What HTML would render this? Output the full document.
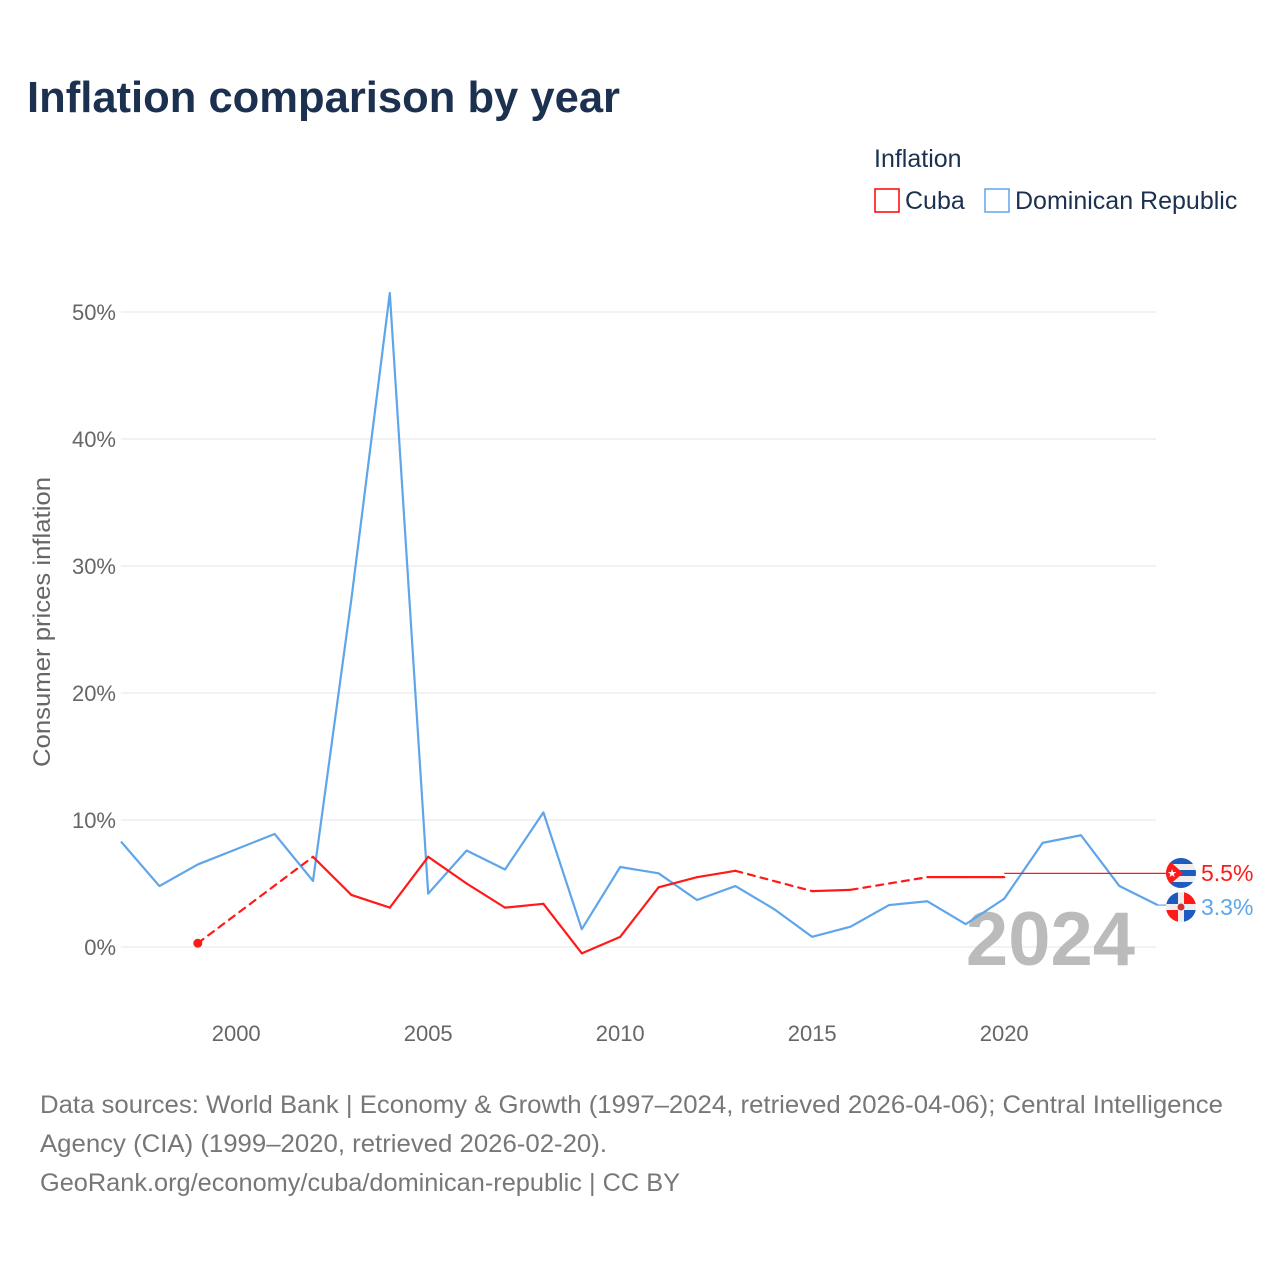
<!DOCTYPE html>
<html><head><meta charset="utf-8">
<style>
body{margin:0;background:#fff;font-family:"Liberation Sans",sans-serif;}
#wrap{position:relative;width:1280px;height:1280px;overflow:hidden;}
</style></head>
<body>
<div id="wrap">
<svg id="chart" width="1280" height="1280" xmlns="http://www.w3.org/2000/svg">
<text x="27" y="112" font-size="44" font-weight="bold" fill="#1c3150" textLength="593" lengthAdjust="spacingAndGlyphs">Inflation comparison by year</text>
<text x="874" y="167" font-size="25" fill="#1c3150">Inflation</text>
<g><rect x="875" y="189" width="24" height="23" fill="none" stroke="#ff0000" stroke-width="1.5"/><text x="905" y="209" font-size="25" fill="#1c3150">Cuba</text></g>
<g><rect x="985" y="189" width="24" height="23" fill="none" stroke="#5ea5ea" stroke-width="1.5"/><text x="1015" y="209" font-size="25" fill="#1c3150">Dominican Republic</text></g>
<g id="grid"></g>
<text x="0" y="0" transform="translate(50,622) rotate(-90)" text-anchor="middle" font-size="24" fill="#666" textLength="290" lengthAdjust="spacingAndGlyphs">Consumer prices inflation</text>
<text x="1135" y="965" text-anchor="end" font-size="76" font-weight="bold" fill="#bbb">2024</text>
<g id="series"></g>
<text x="40" y="1113" font-size="25" fill="#777" textLength="1183" lengthAdjust="spacingAndGlyphs">Data sources: World Bank | Economy &amp; Growth (1997–2024, retrieved 2026-04-06); Central Intelligence</text>
<text x="40" y="1152" font-size="25" fill="#777" textLength="567" lengthAdjust="spacingAndGlyphs">Agency (CIA) (1999–2020, retrieved 2026-02-20).</text>
<text x="40" y="1191" font-size="25" fill="#777" textLength="640" lengthAdjust="spacingAndGlyphs">GeoRank.org/economy/cuba/dominican-republic | CC BY</text>
</svg>
</div>
<script>
const yTicks=[0,10,20,30,40,50];
const xTicks=[2000,2005,2010,2015,2020];
const drYears=[1997,1998,1999,2000,2001,2002,2003,2004,2005,2006,2007,2008,2009,2010,2011,2012,2013,2014,2015,2016,2017,2018,2019,2020,2021,2022,2023,2024];
const drValues=[8.3,4.8,6.5,7.7,8.9,5.2,27.4,51.5,4.2,7.6,6.1,10.6,1.4,6.3,5.8,3.7,4.8,3.0,0.8,1.6,3.3,3.6,1.8,3.8,8.2,8.8,4.8,3.3];
const cubaYears=[1999,2002,2003,2004,2005,2006,2007,2008,2009,2010,2011,2012,2013,2015,2016,2018,2019,2020];
const cubaValues=[0.3,7.1,4.1,3.1,7.1,5.0,3.1,3.4,-0.5,0.8,4.7,5.5,6.0,4.4,4.5,5.5,5.5,5.5];
const cubaLatest=5.8, cubaLabel="5.5%", drLabel="3.3%";
const NS="http://www.w3.org/2000/svg";
const x=yr=>121+(yr-1997)*38.4;
const y=v=>947-v*12.7;
const grid=document.getElementById('grid'), ser=document.getElementById('series');
function mk(tag,attrs,parent){const e=document.createElementNS(NS,tag);for(const k in attrs)e.setAttribute(k,attrs[k]);parent.appendChild(e);return e;}
yTicks.forEach(t=>{
  const l=mk('line',{x1:121,x2:1156,y1:y(t),y2:y(t),stroke:'#e6e6e6','stroke-width':1},grid);
  
  
  const tx=mk('text',{x:116,y:y(t)+8,'text-anchor':'end','font-size':22,fill:'#666'},grid);
  tx.textContent=t+'%';
  
  
});
xTicks.forEach(t=>{
  const tx=mk('text',{x:x(t),y:1041,'text-anchor':'middle','font-size':22,fill:'#666'},grid);
  tx.textContent=t;
  
  
});
const drPts=drYears.map((yr,i)=>x(yr)+','+y(drValues[i])).join(' ');
const dr=mk('polyline',{points:drPts,fill:'none',stroke:'#5ea5ea','stroke-width':2.2,'stroke-linejoin':'round'},ser);


for(let i=0;i<cubaYears.length-1;i++){
  const gap=cubaYears[i+1]-cubaYears[i]>1;
  const s=mk('line',{x1:x(cubaYears[i]),y1:y(cubaValues[i]),x2:x(cubaYears[i+1]),y2:y(cubaValues[i+1]),stroke:'#ff1a1a','stroke-width':2.2,'stroke-linecap':'round'},ser);
  if(gap)s.setAttribute('stroke-dasharray','7,6');
  
  
}
const dot=mk('circle',{cx:x(cubaYears[0]),cy:y(cubaValues[0]),r:4.5,fill:'#ff1a1a'},ser);


const lastC=cubaYears[cubaYears.length-1];
const cl=mk('line',{x1:x(lastC),y1:y(cubaLatest),x2:1170,y2:y(cubaLatest),stroke:'#ff1a1a','stroke-width':1.2},ser);


const dl=mk('line',{x1:x(2024),y1:y(drValues[drValues.length-1]),x2:1170,y2:y(drValues[drValues.length-1]),stroke:'#5ea5ea','stroke-width':1.2},ser);


function flagCuba(cx,cy){
  const g=mk('g',{},ser);
  
  
  const cp=mk('clipPath',{id:'cc'},g);mk('circle',{cx:cx,cy:cy,r:15},cp);
  const inner=mk('g',{'clip-path':'url(#cc)'},g);
  mk('rect',{x:cx-15,y:cy-15,width:30,height:30,fill:'#eee'},inner);
  for(let k=0;k<3;k++)mk('rect',{x:cx-15,y:cy-15+k*12,width:30,height:6,fill:'#1e5bbf'},inner);
  mk('polygon',{points:`${cx-15},${cy-15} ${cx+2},${cy} ${cx-15},${cy+15}`,fill:'#ff1a1a'},inner);
  const st=mk('text',{x:cx-9,y:cy+4,'font-size':11,fill:'#fff','text-anchor':'middle'},inner);st.textContent='★';
}
function flagDR(cx,cy){
  const g=mk('g',{},ser);
  
  
  const cp=mk('clipPath',{id:'cd'},g);mk('circle',{cx:cx,cy:cy,r:15},cp);
  const inner=mk('g',{'clip-path':'url(#cd)'},g);
  mk('rect',{x:cx-15,y:cy-15,width:30,height:30,fill:'#eee'},inner);
  mk('rect',{x:cx-15,y:cy-15,width:12,height:12,fill:'#1e5bbf'},inner);
  mk('rect',{x:cx+3,y:cy-15,width:12,height:12,fill:'#ff1a1a'},inner);
  mk('rect',{x:cx-15,y:cy+3,width:12,height:12,fill:'#ff1a1a'},inner);
  mk('rect',{x:cx+3,y:cy+3,width:12,height:12,fill:'#1e5bbf'},inner);
  mk('circle',{cx:cx,cy:cy,r:3.5,fill:'#c33'},inner);
}
flagCuba(1181,873);
flagDR(1181,907);
const t1=mk('text',{x:1201,y:881,'font-size':23,fill:'#ff1a1a'},ser);t1.textContent=cubaLabel;


const t2=mk('text',{x:1201,y:915,'font-size':23,fill:'#5ea5ea'},ser);t2.textContent=drLabel;


</script>
</body></html>
